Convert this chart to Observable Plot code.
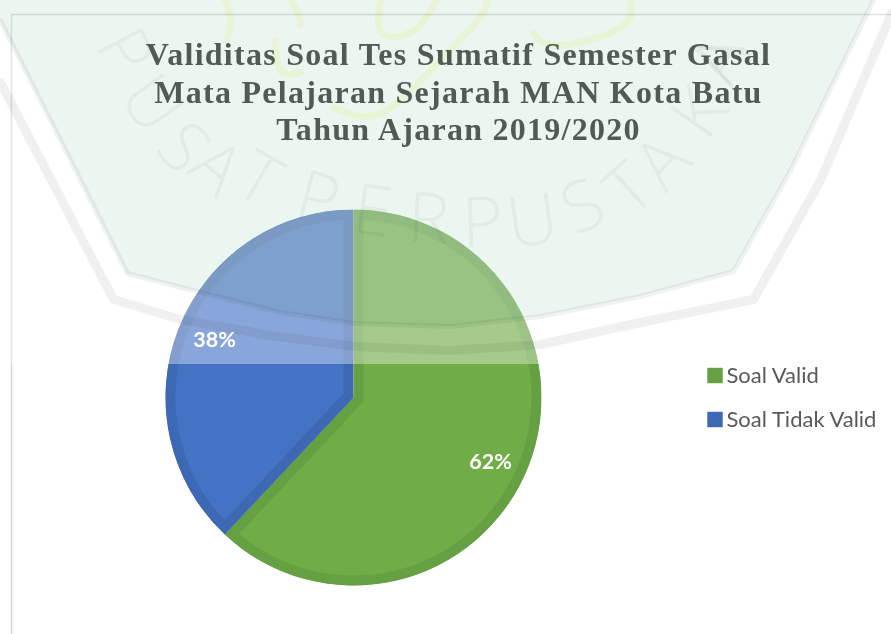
<!DOCTYPE html>
<html>
<head>
<meta charset="utf-8">
<script src="https://cdn.jsdelivr.net/npm/d3@7"></script>
<script src="https://cdn.jsdelivr.net/npm/@observablehq/plot@0.6"></script>
<style>
html,body{margin:0;padding:0;background:#fff;overflow:hidden}
svg{display:block;background:#fff}
.ttl{letter-spacing:1.27px}
</style>
</head>
<body>
<div id="chart"></div>
<script>
// chart data
const categories = ["Soal Valid", "Soal Tidak Valid"];
const values = [62, 38];
const fills = ["#70ad47", "#4472c4"];
const rings = ["#65a042", "#3d68b4"];
const titleLines = [
  "Validitas Soal Tes Sumatif Semester Gasal",
  "Mata Pelajaran Sejarah MAN Kota Batu",
  "Tahun Ajaran 2019/2020"
];
// placement of the chart parts, in page pixels
const pieCenter = [353.5, 397.5];
const pieRadius = 188;
const ringWidth = 10;
const titleX = 458;
const titleY = [64.5, 102.5, 139.5];
const labelRadius = 150;
const labelShift = [[-3, 9], [0, -3]];
const legendX = 714.5, legendTextX = 726, legendY = [375, 419];
const foldY = 364;

// scanned-page watermark seen through the picture
const shieldX = [0, 127, 200, 280, 354, 450, 540, 640, 733, 790, 873];
const shieldY = [20, 273, 292, 312, 323, 326, 316, 296, 271, 170, 0];
const outerX = [0, 113, 180, 270, 354, 450, 540, 640, 753, 820, 891];
const outerY = [82, 299, 319, 335, 346, 350, 344, 322, 299, 180, 13];
const markLetters = "PUSATPERPUSTAKAA".split("");
const markX = [123, 150, 182, 215, 258, 317, 372, 428, 482, 532, 583, 630, 663, 700, 722, 717];
const markY = [52, 104, 148, 168, 180, 200, 212, 220, 224, 222, 207, 190, 163, 113, 60, 57];
const markRot = [62, 55, 48, 40, 30, 15, 8, 3, -2, -8, -25, -42, -48, -55, -62, -66];
const logoStrokes = [
  {x: [225, 230, 226], y: [0, 20, 40]},
  {x: [290, 298, 300], y: [0, 14, 24]},
  {x: [380, 382, 413, 436], y: [0, 33, 30, 0]},
  {x: [333, 380, 433, 477, 487], y: [107, 113, 67, 20, 0]},
  {x: [275, 280, 300], y: [40, 70, 72]},
  {x: [533, 560, 620, 630], y: [33, 45, 27, 0]}
];

const total = d3.sum(values);
const arcs = d3.pie().sort(null).value(d => d)(values);
const rows = categories.map((c, i) => {
  const mid = (arcs[i].startAngle + arcs[i].endAngle) / 2;
  return {
    category: c, value: values[i],
    label: Math.round(100 * values[i] / total) + "%",
    lx: pieCenter[0] + labelRadius * Math.sin(mid) + labelShift[i][0],
    ly: pieCenter[1] - labelRadius * Math.cos(mid) + labelShift[i][1]
  };
});

function pieMark(index, scales) {
  const svgNS = "http://www.w3.org/2000/svg";
  const g = document.createElementNS(svgNS, "g");
  const cx = scales.x(pieCenter[0]), cy = scales.y(pieCenter[1]);
  g.setAttribute("transform", `translate(${cx},${cy})`);
  const path = d3.arc().innerRadius(0).outerRadius(pieRadius);
  arcs.forEach((a, i) => {
    const d = path(a);
    const clip = document.createElementNS(svgNS, "clipPath");
    clip.setAttribute("id", "slice" + i);
    const cp = document.createElementNS(svgNS, "path");
    cp.setAttribute("d", d);
    clip.appendChild(cp);
    g.appendChild(clip);
    const p = document.createElementNS(svgNS, "path");
    p.setAttribute("d", d);
    p.setAttribute("fill", scales.color(categories[i]));
    p.setAttribute("stroke", rings[i]);
    p.setAttribute("stroke-width", ringWidth * 2);
    p.setAttribute("clip-path", `url(#slice${i})`);
    g.appendChild(p);
  });
  return g;
}

const shield = shieldX.map((x, i) => ({x, y: shieldY[i]}));
const outer = outerX.map((x, i) => ({x, y: outerY[i]}));
const letters = markLetters.map((t, i) => ({t, x: markX[i], y: markY[i], r: markRot[i]}));
const strokes = logoStrokes.flatMap((s, k) => s.x.map((x, i) => ({k, x, y: s.y[i]})));
const legend = categories.map((c, i) => ({c, y: legendY[i]}));
const titles = titleLines.map((t, i) => ({t, y: titleY[i]}));

const plot = Plot.plot({
  width: 891, height: 634, margin: 0,
  x: {type: "identity", axis: null},
  y: {type: "identity", axis: null},
  color: {domain: categories, range: fills},
  marks: [
    Plot.ruleX([11], {y1: 14, y2: 634, stroke: "#d4d4d4", strokeWidth: 1.5}),
    Plot.ruleY([14], {x1: 11, x2: 891, stroke: "#cfcfcf", strokeWidth: 1.5}),
    pieMark,
    Plot.rect([0], {x1: 0, x2: 891, y1: 0, y2: foldY, fill: "#fff", fillOpacity: 0.37}),
    Plot.areaY(shield, {x: "x", y1: 0, y2: "y", fill: "#ebf6f1", curve: "linear", mixBlendMode: "multiply"}),
    Plot.text(letters, {x: "x", y: "y", text: "t", rotate: "r", fontSize: 70, fontFamily: "Open Sans", fontWeight: 300, fill: "#f6f4f4", mixBlendMode: "multiply"}),
    Plot.line(strokes, {x: "x", y: "y", z: "k", curve: "natural", stroke: "#fdfce2", strokeWidth: 7, mixBlendMode: "multiply"}),
    Plot.line(shield, {x: "x", y: "y", curve: "linear", stroke: "#f1f1f1", strokeWidth: 5, mixBlendMode: "multiply"}),
    Plot.line(outer, {x: "x", y: "y", curve: "linear", stroke: "#f0f0f0", strokeWidth: 9, mixBlendMode: "multiply"}),
    Plot.text(titles, {x: () => titleX, y: "y", text: "t", lineAnchor: "bottom", textAnchor: "middle",
      fontFamily: "Liberation Serif", fontWeight: 700, fontSize: 32, fill: "#505b54", className: "ttl"}),
    Plot.text(rows, {x: "lx", y: "ly", text: "label", fontFamily: "Lato", fontWeight: 700, fontSize: 21.5, fill: "#fff"}),
    Plot.dot(legend, {x: () => legendX, y: "y", symbol: "square", r: 8.7, fill: (d, i) => rings[i]}),
    Plot.text(legend, {x: () => legendTextX, y: "y", text: "c", textAnchor: "start", fontFamily: "Lato", fontSize: 22, fill: "#595959"})
  ]
});
document.getElementById("chart").appendChild(plot);
</script>
</body>
</html>
